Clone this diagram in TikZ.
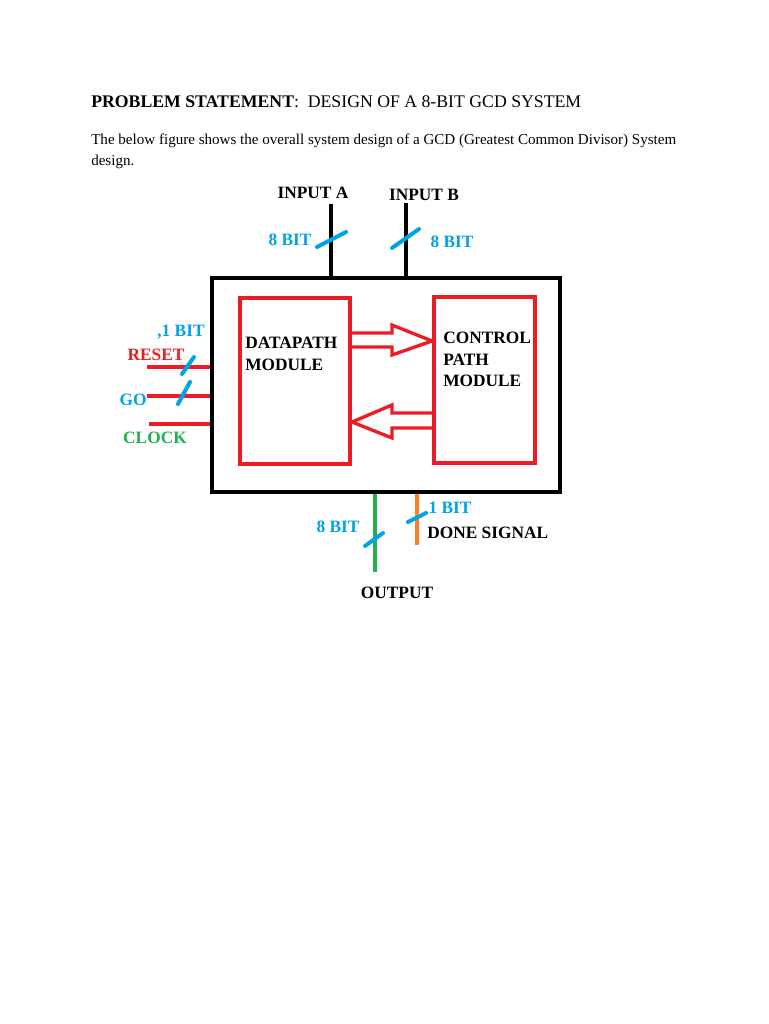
\documentclass[tikz,border=0pt]{standalone}
\usepackage{fontspec}
\setmainfont{Liberation Serif}
\usetikzlibrary{positioning,calc}
\definecolor{paintRed}{RGB}{237,28,36}
\definecolor{paintBlue}{RGB}{0,162,232}
\definecolor{paintGreen}{RGB}{34,177,76}
\definecolor{paintOrange}{RGB}{255,127,39}

\begin{document}
\begin{tikzpicture}[x=0.75pt,y=-0.75pt,
    lbl/.style={font=\fontsize{13}{16}\selectfont\bfseries,inner sep=0pt},
    prose/.style={anchor=base west,inner sep=0pt,font=\fontsize{11.3}{14}\selectfont},
    wire/.style={line width=3pt},
    busmark/.style={paintBlue,line width=3pt,line cap=round},
    modbox/.style={draw=paintRed,line width=3pt,inner sep=0pt}]
        \useasboundingbox (0,0) rectangle (768,1024);
        % heading
        \node[anchor=base west,inner sep=0pt,font=\fontsize{13.3}{16}\selectfont] (title) at (91,108)
          {\textbf{PROBLEM STATEMENT}:\ \ DESIGN OF A 8-BIT GCD SYSTEM};
        \node[prose] (intro) at (91,144)
          {The below figure shows the overall system design of a GCD (Greatest Common Divisor) System};
        \node[prose] (intro2) at (91,165) {design.};
        % system box and modules
        \node[draw,line width=3pt,minimum width=261pt,minimum height=160.5pt,inner sep=0pt] (sys) at (386,385) {};
        \node[modbox,minimum width=82.5pt,minimum height=124.5pt] (dp) at (295,381) {};
        \node[modbox,minimum width=75.75pt,minimum height=124.5pt] (cp) at (484.5,380) {};
        \node[lbl,anchor=west,align=left] (dptext) at (245,354) {DATAPATH\\MODULE};
        \node[lbl,anchor=west,align=left] (cptext) at (443,359.5) {CONTROL\\PATH\\MODULE};
        % hollow arrows between modules
        \draw[paintRed,line width=2.5pt,line join=miter]
          (dp.east |- 0,333) -- (392,333) -- (392,325) -- (cp.west |- 0,341)
          -- (392,355) -- (392,347) -- (dp.east |- 0,347);
        \draw[paintRed,line width=2.5pt,line join=miter]
          (cp.west |- 0,413) -- (392,413) -- (392,405) -- (dp.east |- 0,422)
          -- (392,438) -- (392,428) -- (cp.west |- 0,428);
        % inputs
        \coordinate (inA) at (331,204);
        \coordinate (inB) at (406,203);
        \draw[wire] (inA) -- (inA |- sys.north);
        \draw[wire] (inB) -- (inB |- sys.north);
        \node[lbl] (inAtext) at (313,193) {INPUT A};
        \node[lbl] (inBtext) at (424,195) {INPUT B};
        \draw[busmark] (317,247) -- (346,232);
        \draw[busmark] (392,248) -- (419,229);
        \node[lbl,paintBlue] (bitA) at (290,240) {8 BIT};
        \node[lbl,paintBlue] (bitB) at (452,242) {8 BIT};
        % control inputs
        \coordinate (rst) at (147,367);
        \coordinate (go) at (147,396);
        \coordinate (clk) at (149,424);
        \draw[wire,paintRed] (rst) -- (rst -| sys.west);
        \draw[wire,paintRed] (go) -- (go -| sys.west);
        \draw[wire,paintRed] (clk) -- (clk -| sys.west);
        \draw[busmark] (182,374) -- (194,357);
        \draw[busmark] (178,404) -- (190,382);
        \node[lbl,paintBlue] (bitCtl) at (181,332) {,1 BIT};
        \node[lbl,paintRed] (rsttext) at (156,355) {RESET};
        \node[lbl,paintBlue] (gotext) at (133,400) {GO};
        \node[lbl,paintGreen] (clktext) at (155,438) {CLOCK};
        % outputs
        \coordinate (outEnd) at (375,572);
        \coordinate (doneEnd) at (417,545);
        \draw[wire,paintGreen] (outEnd) -- (outEnd |- sys.south);
        \draw[wire,paintOrange] (doneEnd) -- (doneEnd |- sys.south);
        \draw[busmark] (365,546) -- (383,533);
        \draw[busmark] (408,522) -- (426,513);
        \node[lbl,paintBlue] (bitOut) at (338,527) {8 BIT};
        \node[lbl,paintBlue] (bitDone) at (450,508) {1 BIT};
        \node[lbl,anchor=west] (donetext) at (427,533) {DONE SIGNAL};
        \node[lbl] (outtext) at (397,593) {OUTPUT};
      \end{tikzpicture}
\end{document}
